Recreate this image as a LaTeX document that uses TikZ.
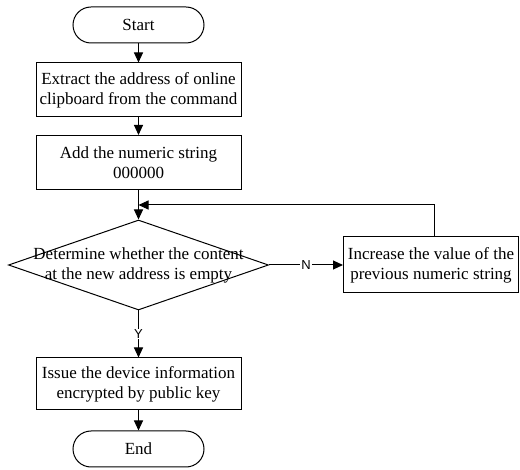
\documentclass[tikz,border=0pt]{standalone}
\usepackage{fontspec}
\setmainfont{Liberation Serif}
\newfontfamily\lab{Liberation Sans}
\usetikzlibrary{shapes.geometric,arrows.meta}
\begin{document}
\begin{tikzpicture}[x=1pt,y=-1pt,
  every node/.style={font=\fontsize{17}{20}\selectfont},
  term/.style={draw,line width=1pt,rounded corners=18pt,minimum width=131pt,minimum height=36pt,inner sep=0pt},
  proc/.style={draw,line width=1pt,minimum width=205pt,minimum height=54pt,align=center,inner sep=0pt},
  dec/.style={draw,line width=1pt,diamond,minimum width=260pt,minimum height=90pt,inner sep=0pt},
  arr/.style={line width=1pt,-{Triangle[width=9pt,length=10pt]}},
  yn/.style={font=\lab\fontsize{13}{15}\selectfont,fill=white,inner sep=1pt}
]
\useasboundingbox (0,0) rectangle (520,470);
\node[term] (start) at (138.5,25) {Start};
\node[proc] (b1) at (138.5,90) {Extract the address of online\\clipboard from the command};
\node[proc] (b2) at (138.5,162.5) {Add the numeric string\\000000};
\node[dec] (d) at (138.5,265) {};
\node[align=center] (dt) at (138.5,265) {Determine whether the content\\at the new address is empty};
\node[proc,minimum width=175pt,minimum height=56pt] (r) at (431,265) {Increase the value of the\\previous numeric string};
\node[proc,minimum height=52pt] (b3) at (138.5,384) {Issue the device information\\encrypted by public key};
\node[term] (end) at (138.5,449) {End};
\coordinate (j) at (138.5,205);
\coordinate (rc) at (434,205);
\draw[arr] (start) -- (b1);
\draw[arr] (b1) -- (b2);
\draw[arr] (b2) -- (d);
\draw[arr] (r.north -| rc) -- (rc) -- (j);
\draw[arr] (d.east) -- node[yn] (n) {N} (r.west);
\draw[arr] (d.south) -- node[yn] (y) {Y} (b3.north);
\draw[arr] (b3) -- (end);
\end{tikzpicture}
\end{document}
